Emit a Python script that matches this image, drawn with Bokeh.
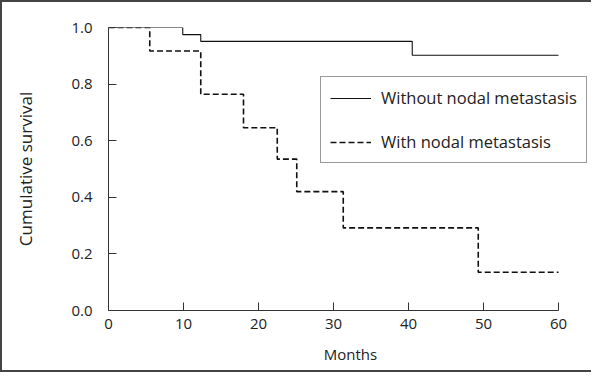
from bokeh.plotting import figure
from bokeh.models import Range1d, Legend, LegendItem, FixedTicker, CustomJSTickFormatter
from bokeh.embed import file_html
from bokeh.resources import INLINE

# Data
months_without = [0, 9.9, 12.3, 40.5, 60]
surv_without = [1.0, 0.975, 0.951, 0.902, 0.902]

months_with = [0, 5.5, 12.3, 18.0, 22.5, 25.1, 31.3, 49.3, 60]
surv_with = [1.0, 0.917, 0.764, 0.646, 0.535, 0.420, 0.292, 0.135, 0.135]

x_ticks = [0, 10, 20, 30, 40, 50, 60]
y_ticks = [0.0, 0.2, 0.4, 0.6, 0.8, 1.0]

FONT = "Open Sans"
INK = "#222222"

# frame is 484 px wide; 60 months take 450 px, so extend the range (axis bounded to 0..60)
x_end = 60 * 484 / 450

p = figure(width=591, height=372, output_backend="svg", toolbar_location=None,
           x_range=Range1d(0, x_end), y_range=Range1d(0, 1),
           min_border_left=106, min_border_right=1, min_border_top=25, min_border_bottom=64)
p.styles = {"border-top": "2px solid #444", "border-left": "2px solid #444",
            "border-bottom": "2px solid #444", "box-sizing": "border-box"}

p.outline_line_color = None
p.xgrid.visible = False
p.ygrid.visible = False
p.background_fill_color = "white"
p.border_fill_color = "white"

r1 = p.step(months_without, surv_without, mode="after", line_color="#111111", line_width=1.1)
r2 = p.step(months_with, surv_with, mode="after", line_color="#111111", line_width=1.6,
            line_dash="6 3")

for ax in (p.xaxis[0], p.yaxis[0]):
    ax.axis_line_color = "#333333"
    ax.major_tick_line_color = "#333333"
    ax.major_tick_in = 8
    ax.major_tick_out = 0
    ax.minor_tick_line_color = None
    ax.major_label_text_font = FONT
    ax.major_label_text_font_size = "15px"
    ax.major_label_text_color = INK
    ax.axis_label_text_font = FONT
    ax.axis_label_text_font_size = "15px"
    ax.axis_label_text_font_style = "normal"
    ax.axis_label_text_color = INK

p.xaxis.bounds = (0, 60)
p.xaxis.ticker = FixedTicker(ticks=x_ticks)
p.yaxis.ticker = FixedTicker(ticks=y_ticks)
p.yaxis.formatter = CustomJSTickFormatter(code="return tick.toFixed(1);")
p.xaxis.major_label_standoff = 8
p.yaxis.major_label_standoff = 16
p.xaxis.axis_label = "Months"
p.yaxis.axis_label = "Cumulative survival"
p.yaxis.axis_label_text_font_size = "17px"
p.xaxis.axis_label_standoff = 12
p.yaxis.axis_label_standoff = 31

legend = Legend(items=[LegendItem(label="Without nodal metastasis", renderers=[r1]),
                       LegendItem(label="With nodal metastasis", renderers=[r2])],
                location=(212, 147))
legend.border_line_color = "#333333"
legend.border_line_width = 1
legend.background_fill_alpha = 1
legend.background_fill_color = "white"
legend.label_text_font = FONT
legend.label_text_font_size = "16.5px"
legend.label_text_color = INK
legend.glyph_width = 41
legend.glyph_height = 20
legend.label_height = 20
legend.label_standoff = 10
legend.padding = 9
legend.spacing = 21
legend.margin = 0
p.add_layout(legend, "center")

open("out.html", "w").write(file_html(p, INLINE))
